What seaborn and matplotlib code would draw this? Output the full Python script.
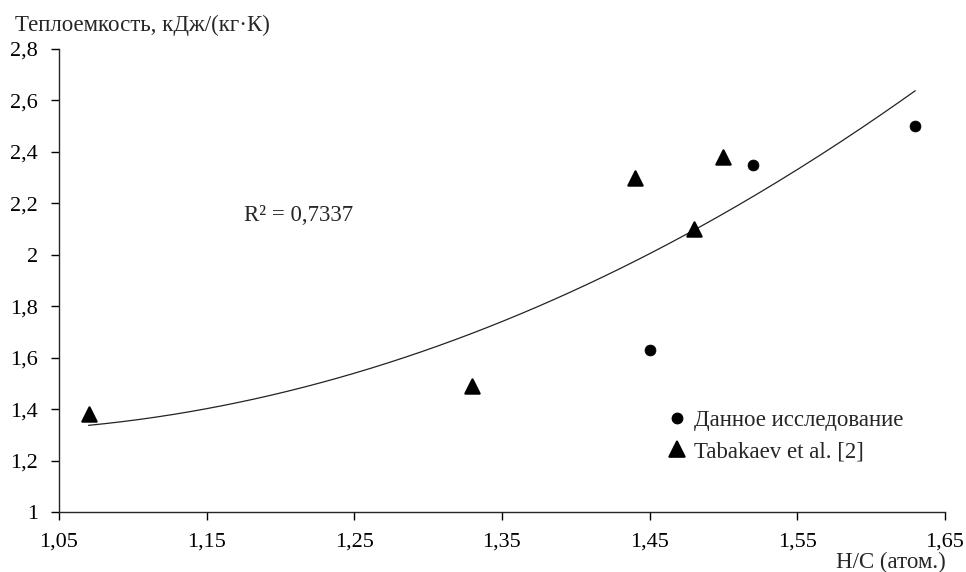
import numpy as np
import pandas as pd
import matplotlib
matplotlib.use("Agg")
import matplotlib.pyplot as plt
from matplotlib.ticker import FuncFormatter, FixedLocator
from matplotlib.lines import Line2D
import seaborn as sns

# H/C atomic ratio vs. heat capacity
own_hc = [1.45, 1.52, 1.63]
own_cp = [1.63, 2.35, 2.50]
tab_hc = [1.07, 1.33, 1.44, 1.48, 1.50]
tab_cp = [1.38, 1.49, 2.30, 2.10, 2.38]

own_label = "Данное исследование"
tab_label = "Tabakaev et al. [2]"
r2_text = "R² = 0,7337"

x_ticks = [1.05, 1.15, 1.25, 1.35, 1.45, 1.55, 1.65]
y_ticks = [1.0, 1.2, 1.4, 1.6, 1.8, 2.0, 2.2, 2.4, 2.6, 2.8]

sns.set_style("ticks")
plt.rcParams["font.family"] = ["Liberation Serif", "DejaVu Serif"]
plt.rcParams["axes.linewidth"] = 1.0

df_own = pd.DataFrame({"hc": own_hc, "cp": own_cp})
df_tab = pd.DataFrame({"hc": tab_hc, "cp": tab_cp})

fig = plt.figure(figsize=(9.66, 5.72), dpi=100)
ax = fig.add_axes([0.0611, 0.1049, 0.9169, 0.8094])

# second-order polynomial trend through all points
all_x = np.array(own_hc + tab_hc)
all_y = np.array(own_cp + tab_cp)
coef = np.polyfit(all_x, all_y, 2)
xs = np.linspace(all_x.min(), all_x.max(), 200)
trend = pd.DataFrame({"hc": xs, "cp": np.polyval(coef, xs)})
sns.lineplot(data=trend, x="hc", y="cp", ax=ax, color="#222222", linewidth=0.9)

sns.scatterplot(data=df_own, x="hc", y="cp", ax=ax, marker="o", s=62,
                color="black", edgecolor="black", linewidth=0.5, zorder=3)
sns.scatterplot(data=df_tab, x="hc", y="cp", ax=ax, marker="^", s=105,
                color="black", edgecolor="black", linewidth=1.6, zorder=3)
for c in ax.collections:
    c.set_joinstyle("round")

ax.set_xlim(1.05, 1.65)
ax.set_ylim(1.0, 2.8)
ax.xaxis.set_major_locator(FixedLocator(x_ticks))
ax.yaxis.set_major_locator(FixedLocator(y_ticks))
ax.xaxis.set_major_formatter(FuncFormatter(lambda v, p: f"{v:.2f}".replace(".", ",")))
ax.yaxis.set_major_formatter(FuncFormatter(lambda v, p: f"{v:g}".replace(".", ",")))
ax.tick_params(axis="both", direction="out", length=5.5, width=1.0, labelsize=16,
               colors="black")
ax.tick_params(axis="x", pad=9.5)
ax.tick_params(axis="y", pad=9.5)
ax.set_xlabel("")
ax.set_ylabel("")
sns.despine(ax=ax)

fig.text(0.016, 0.955, "Теплоемкость, кДж/(кг·К)", fontsize=16.5, va="center", ha="left")
fig.text(0.979, 0.017, "H/C (атом.)", fontsize=16.5, va="center", ha="right")
fig.text(0.253, 0.623, r2_text, fontsize=16.5, va="center", ha="left")

handles = [
    Line2D([], [], marker="o", linestyle="none", color="black", markersize=7.5),
    Line2D([], [], marker="^", linestyle="none", color="black", markersize=11.5,
           markeredgewidth=1.2),
]
leg = ax.legend(handles, [own_label, tab_label], loc="upper left",
                bbox_to_anchor=(0.6765, 0.24), frameon=False, fontsize=16.5,
                handlelength=0.8, handletextpad=0.35, labelspacing=0.45,
                borderaxespad=0)

fig.savefig("out.png", dpi=100)
